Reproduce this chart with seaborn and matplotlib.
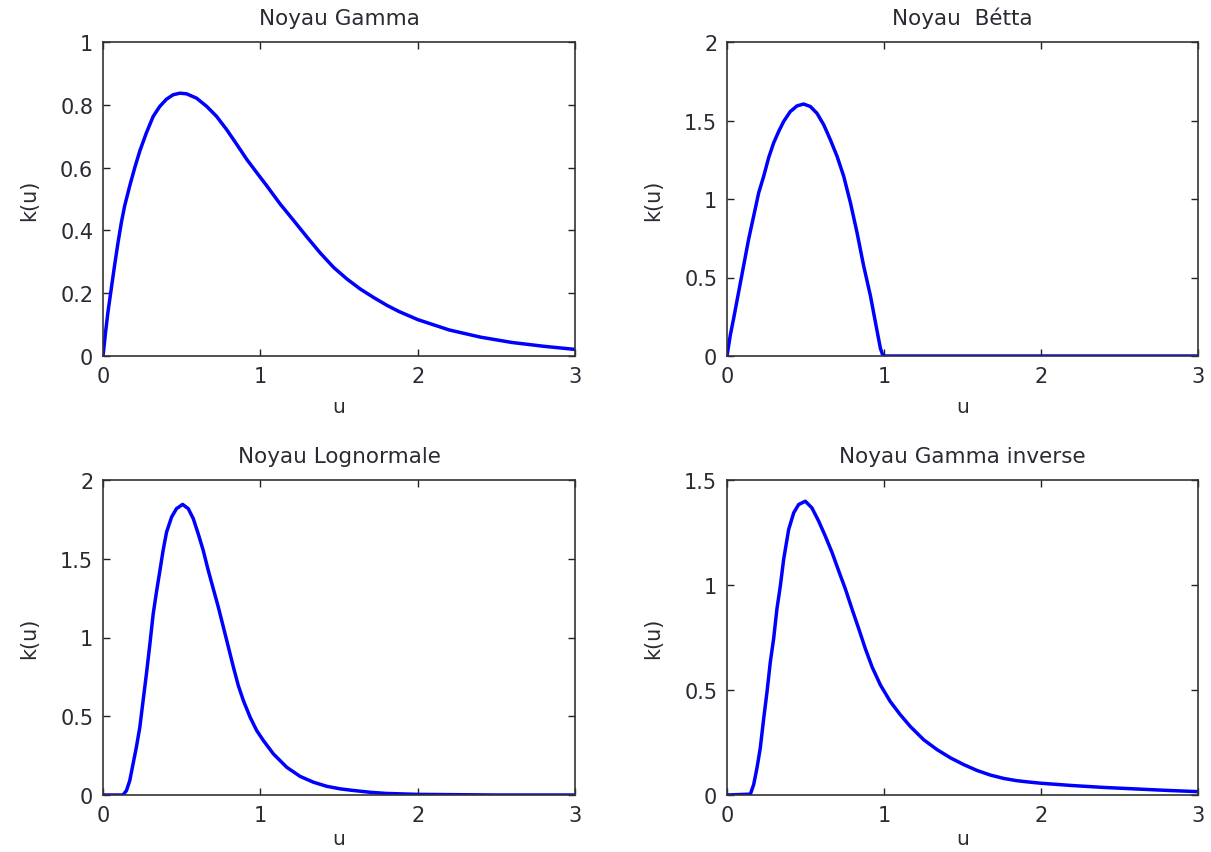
import numpy as np
import pandas as pd
import matplotlib
matplotlib.use("Agg")
import matplotlib.pyplot as plt
import seaborn as sns

# ---- data ----
u_gamma = [0.0, 0.017, 0.032, 0.053, 0.074, 0.096, 0.117, 0.138, 0.17, 0.202, 0.234, 0.276, 0.319, 0.361,
           0.404, 0.446, 0.489, 0.531, 0.595, 0.659, 0.722, 0.786, 0.85, 0.914, 0.977, 1.041, 1.126,
           1.211, 1.296, 1.381, 1.466, 1.551, 1.636, 1.721, 1.806, 1.88, 2.0, 2.2, 2.4, 2.6, 2.8, 3.0]
k_gamma = [0.0, 0.079, 0.142, 0.216, 0.29, 0.363, 0.426, 0.479, 0.542, 0.60, 0.653, 0.711, 0.763, 0.795,
           0.818, 0.832, 0.837, 0.835, 0.821, 0.795, 0.763, 0.721, 0.674, 0.626, 0.584, 0.542, 0.484,
           0.432, 0.379, 0.328, 0.282, 0.245, 0.213, 0.186, 0.161, 0.142, 0.116, 0.083, 0.060, 0.043,
           0.031, 0.021]

u_beta = [0.0, 0.021, 0.042, 0.074, 0.106, 0.138, 0.17, 0.202, 0.234, 0.265, 0.297, 0.329, 0.361, 0.403,
          0.446, 0.488, 0.531, 0.573, 0.616, 0.658, 0.701, 0.743, 0.786, 0.828, 0.87, 0.913, 0.945,
          0.977, 0.994, 1.5, 2.0, 2.5, 3.0]
k_beta = [0.0, 0.133, 0.238, 0.407, 0.576, 0.745, 0.892, 1.04, 1.146, 1.262, 1.357, 1.43, 1.494, 1.557,
          1.593, 1.605, 1.589, 1.546, 1.473, 1.378, 1.272, 1.146, 0.977, 0.787, 0.576, 0.386, 0.217,
          0.049, 0.0, 0.0, 0.0, 0.0, 0.0]

u_logn = [0.0, 0.127, 0.149, 0.17, 0.191, 0.212, 0.234, 0.255, 0.276, 0.297, 0.319, 0.34, 0.361, 0.382,
          0.404, 0.436, 0.467, 0.506, 0.542, 0.574, 0.605, 0.637, 0.669, 0.701, 0.733, 0.765, 0.797,
          0.829, 0.86, 0.892, 0.935, 0.977, 1.02, 1.083, 1.168, 1.253, 1.338, 1.423, 1.508, 1.572,
          1.7, 1.8, 2.0, 2.5, 3.0]
k_logn = [0.0, 0.0, 0.028, 0.091, 0.197, 0.303, 0.43, 0.60, 0.769, 0.95, 1.15, 1.29, 1.42, 1.553,
          1.669, 1.765, 1.818, 1.845, 1.818, 1.754, 1.659, 1.553, 1.426, 1.309, 1.193, 1.066, 0.939,
          0.811, 0.695, 0.60, 0.494, 0.409, 0.345, 0.261, 0.176, 0.118, 0.081, 0.055, 0.039, 0.031,
          0.017, 0.01, 0.004, 0.0, 0.0]

u_ginv = [0.0, 0.149, 0.17, 0.191, 0.212, 0.234, 0.255, 0.276, 0.297, 0.318, 0.34, 0.361, 0.393, 0.425,
          0.456, 0.499, 0.541, 0.584, 0.626, 0.669, 0.711, 0.754, 0.796, 0.839, 0.881, 0.924, 0.977,
          1.04, 1.104, 1.168, 1.253, 1.338, 1.423, 1.507, 1.592, 1.677, 1.762, 1.847, 1.932, 2.0,
          2.2, 2.4, 2.6, 2.8, 3.0]
k_ginv = [0.0, 0.004, 0.05, 0.129, 0.224, 0.366, 0.492, 0.634, 0.744, 0.886, 0.997, 1.123, 1.265, 1.344,
          1.383, 1.399, 1.367, 1.304, 1.233, 1.155, 1.068, 0.981, 0.886, 0.792, 0.697, 0.61, 0.524,
          0.445, 0.382, 0.326, 0.263, 0.216, 0.177, 0.145, 0.117, 0.095, 0.079, 0.068, 0.061, 0.056,
          0.045, 0.036, 0.029, 0.022, 0.016]

titles = ["Noyau Gamma", "Noyau  Bétta", "Noyau Lognormale", "Noyau Gamma inverse"]
x_ticks = [0, 1, 2, 3]
y_ticks = [[0, 0.2, 0.4, 0.6, 0.8, 1], [0, 0.5, 1, 1.5, 2], [0, 0.5, 1, 1.5, 2], [0, 0.5, 1, 1.5]]
y_tick_labels = [["0", "0.2", "0.4", "0.6", "0.8", "1"], ["0", "0.5", "1", "1.5", "2"],
                 ["0", "0.5", "1", "1.5", "2"], ["0", "0.5", "1", "1.5"]]
y_max = [1, 2, 2, 1.5]
x_label = "u"
y_label = "k(u)"

series = [(u_gamma, k_gamma), (u_beta, k_beta), (u_logn, k_logn), (u_ginv, k_ginv)]

sns.set_style("ticks")
plt.rcParams['font.family'] = ['DejaVu Sans']

fig = plt.figure(figsize=(12.11, 8.53), dpi=100)
W, H = 1211, 853
boxes = [(103, 43, 575, 357), (727, 43, 1198, 357), (103, 481, 575, 796), (727, 481, 1198, 796)]
xlabel_pads = [8, 8, 3, 3]
text_col = "#2a2a33"

for i, (box, (uu, kk)) in enumerate(zip(boxes, series)):
    l, t, r, b = box
    ax = fig.add_axes([l / W, 1 - b / H, (r - l) / W, (b - t) / H])
    df = pd.DataFrame({"u": uu, "k": kk})
    sns.lineplot(data=df, x="u", y="k", ax=ax, color="#0000ff", linewidth=2.5)
    ax.set_xlim(0, 3)
    ax.set_ylim(0, y_max[i])
    ax.set_xticks(x_ticks)
    ax.set_xticklabels([str(v) for v in x_ticks])
    ax.set_yticks(y_ticks[i])
    ax.set_yticklabels(y_tick_labels[i])
    ax.tick_params(direction="in", length=5, width=1, top=True, right=True,
                   labelsize=15, colors="#222222", labelcolor=text_col, pad=7)
    for s in ax.spines.values():
        s.set_color("#333333")
        s.set_linewidth(1.2)
    ax.set_title(titles[i], fontsize=15.5, color=text_col, pad=13)
    ax.set_xlabel(x_label, fontsize=14.5, color=text_col, labelpad=xlabel_pads[i])
    ax.set_ylabel(y_label, fontsize=15, color=text_col, labelpad=15)

fig.savefig("out.png", dpi=100)
